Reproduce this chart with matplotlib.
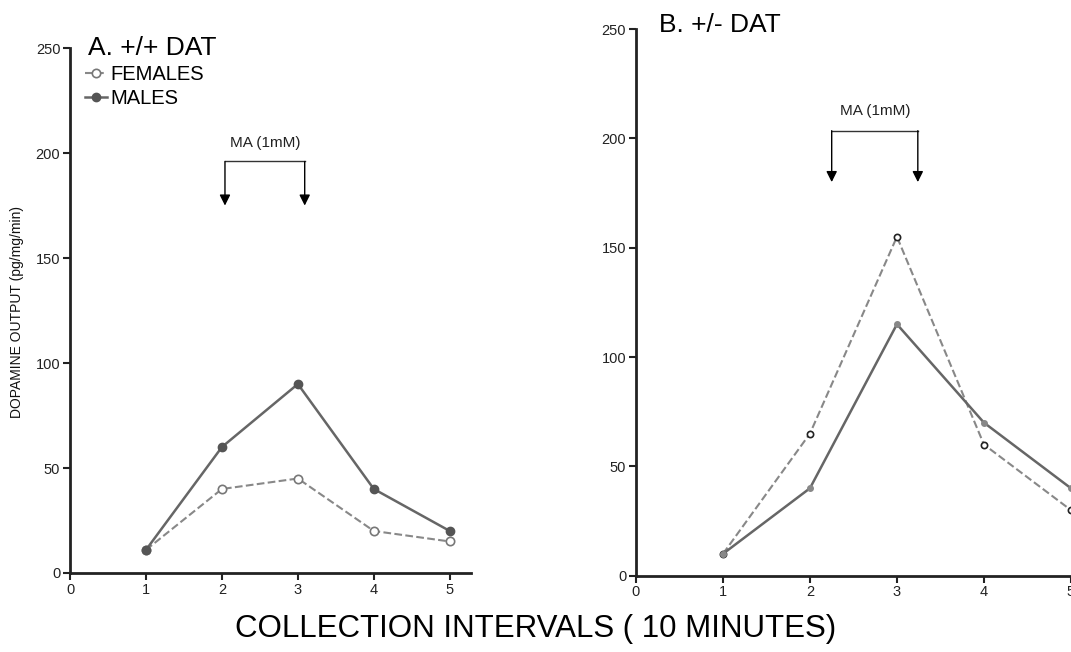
import matplotlib.pyplot as plt

intervals = [1, 2, 3, 4, 5]
a_females = [11, 40, 45, 20, 15]
a_males = [11, 60, 90, 40, 20]
b_females = [10, 65, 155, 60, 30]
b_males = [10, 40, 115, 70, 40]
x_ticks = [0, 1, 2, 3, 4, 5]
y_ticks = [0, 50, 100, 150, 200, 250]

plt.rcParams['font.family'] = ['Liberation Sans', 'DejaVu Sans']


def style_axes(ax, xmax):
    ax.set_xlim(0, xmax)
    ax.set_ylim(0, 250)
    ax.set_xticks(x_ticks)
    ax.set_yticks(y_ticks)
    for side in ('top', 'right'):
        ax.spines[side].set_visible(False)
    for side in ('left', 'bottom'):
        ax.spines[side].set_linewidth(2)
        ax.spines[side].set_color('#222222')
    ax.tick_params(direction='out', length=5, width=1.5, labelsize=10.5,
                   colors='#222222', pad=2)


def bracket(ax, x0, x1, ytop, ybot, label):
    ax.plot([x0, x1], [ytop, ytop], color='#333333', lw=1)
    for x in (x0, x1):
        ax.annotate('', xy=(x, ybot), xytext=(x, ytop),
                    arrowprops=dict(arrowstyle='-|>', color='black', lw=1,
                                    mutation_scale=16, shrinkA=0, shrinkB=0))
    ax.text((x0 + x1) / 2, ytop + 9, label, ha='center', va='center',
            fontsize=11, color='#222222')


fig = plt.figure(figsize=(10.71, 6.52), dpi=100)

# panel A
ax1 = fig.add_axes([0.0654, 0.1212, 0.3744, 0.805])
style_axes(ax1, 5.28)
ax1.plot(intervals, a_females, '--', color='#888888', lw=1.5, marker='o',
         ms=6, mfc='white', mec='#777777', mew=1.2, label='FEMALES')
ax1.plot(intervals, a_males, '-', color='#666666', lw=1.8, marker='o',
         ms=6, mfc='#555555', mec='#555555', label='MALES')
ax1.text(0.23, 250, 'A. +/+ DAT', fontsize=19, va='center', ha='left')
ax1.legend(loc='upper left', bbox_to_anchor=(0.008, 0.99), frameon=False,
           fontsize=14.5, handlelength=1.1, handletextpad=0.15,
           labelspacing=0.25, borderaxespad=0.2)
bracket(ax1, 2.04, 3.09, 196, 175, 'MA (1mM)')

# panel B
ax2 = fig.add_axes([0.5938, 0.117, 0.4305, 0.8385])
style_axes(ax2, 5.3)
ax2.plot(intervals, b_females, '--', color='#888888', lw=1.5, marker='o',
         ms=4.5, mfc='white', mec='#222222', mew=1.2)
ax2.plot(intervals, b_males, '-', color='#666666', lw=1.8, marker='o',
         ms=4, mfc='#888888', mec='#888888')
ax2.text(0.27, 252, 'B. +/- DAT', fontsize=19, va='center', ha='left')
bracket(ax2, 2.25, 3.24, 203.5, 180, 'MA (1mM)')

fig.text(17 / 1071, 1 - 312 / 652, 'DOPAMINE OUTPUT (pg/mg/min)', rotation=90,
         ha='center', va='center', fontsize=10, color='#111111')
fig.text(0.5, 0.035, 'COLLECTION INTERVALS ( 10 MINUTES)', ha='center',
         va='center', fontsize=22.5)

fig.savefig('out.png', dpi=100)
